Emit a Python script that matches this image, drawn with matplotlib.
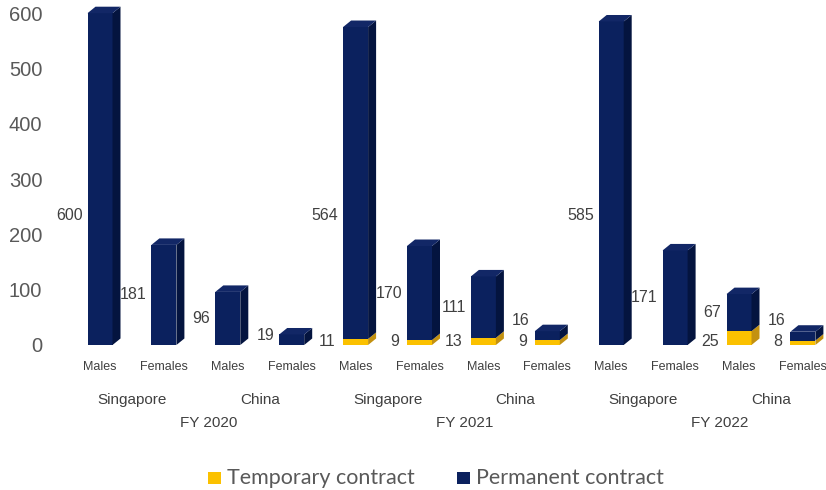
import matplotlib
matplotlib.use("Agg")
import matplotlib.pyplot as plt
from matplotlib.patches import Polygon, Rectangle
from matplotlib.transforms import blended_transform_factory

# ---- data -----------------------------------------------------------------
years = ["FY 2020", "FY 2021", "FY 2022"]
regions = ["Singapore", "China"]
genders = ["Males", "Females"]

# order inside each year: Singapore Males, Singapore Females, China Males, China Females
temporary = [
    [0, 0, 0, 0],
    [11, 9, 13, 9],
    [0, 0, 25, 8],
]
permanent = [
    [600, 181, 96, 19],
    [564, 170, 111, 16],
    [585, 171, 67, 16],
]
yticks = [0, 100, 200, 300, 400, 500, 600]

# ---- styling --------------------------------------------------------------
NAVY = ("#0B215E", "#04143F", "#122766")      # front, side, top
GOLD = ("#FBC100", "#C39110", "#E8B000")
TXT = "#595959"
LBL = "#404040"
FONT = ["Liberation Sans", "DejaVu Sans"]

W, H = 826, 490
fig = plt.figure(figsize=(W / 100, H / 100), dpi=100)

ax_left, ax_right = 50, 826
ax_top, ax_bottom = 3, 345
ax = fig.add_axes([ax_left / W, (H - ax_bottom) / H,
                   (ax_right - ax_left) / W, (ax_bottom - ax_top) / H])

px_per_unit_x = 63.9
px_per_unit_y = 0.553
xmin = -(100 - ax_left) / px_per_unit_x
xmax = xmin + (ax_right - ax_left) / px_per_unit_x
ymax = (ax_bottom - ax_top) / px_per_unit_y
ax.set_xlim(xmin, xmax)
ax.set_ylim(0, ymax)

bar_w = 25 / px_per_unit_x
dx = 8 / px_per_unit_x
dy = 6.5 / px_per_unit_y


def box(x0, y0, h, colors, top=True):
    """Front face, right side and (optionally) top of a pseudo-3D block."""
    front, side, topc = colors
    x1 = x0 + bar_w
    y1 = y0 + h
    ax.add_patch(Rectangle((x0, y0), bar_w, h, facecolor=front,
                           edgecolor="none", clip_on=False, zorder=2))
    ax.add_patch(Polygon([(x1, y0), (x1 + dx, y0 + dy), (x1 + dx, y1 + dy), (x1, y1)],
                         closed=True, facecolor=side, edgecolor="none",
                         clip_on=False, zorder=2))
    if top:
        ax.add_patch(Polygon([(x0, y1), (x0 + dx, y1 + dy), (x1 + dx, y1 + dy), (x1, y1)],
                             closed=True, facecolor=topc, edgecolor="none",
                             clip_on=False, zorder=2))


trans_fig_y = blended_transform_factory(ax.transData, fig.transFigure)


def fy(px):
    return 1 - px / H


idx = 0
for yi, year in enumerate(years):
    for k in range(4):
        x = idx
        x0 = x - bar_w / 2
        t = temporary[yi][k]
        p = permanent[yi][k]
        if t > 0:
            box(x0, 0, t, GOLD, top=False)
        box(x0, t, p, NAVY, top=True)

        # value labels, placed just left of the bar
        lx = x0 - 5 / px_per_unit_x
        if t > 0:
            ax.text(lx - 3 / px_per_unit_x, 7, str(t), ha="right", va="center",
                    fontsize=11.5, color=LBL, family=FONT, zorder=3)
        mid = t + p / 2
        lo = 45 if t > 0 else 18
        ly = min(max(mid, lo), 235)
        ax.text(lx, ly, str(p), ha="right", va="center",
                fontsize=11.5, color=LBL, family=FONT, zorder=3)

        # gender label
        ax.text(x, fy(367), genders[k % 2], ha="center", va="center",
                fontsize=9, color=LBL, family=FONT, transform=trans_fig_y)
        idx += 1

    base = yi * 4
    for r, region in enumerate(regions):
        cx = base + 2 * r + 0.5
        ax.text(cx, fy(400), region, ha="center", va="center",
                fontsize=11, color=LBL, family=FONT, transform=trans_fig_y)
    ax.text(base + 1.5 + 0.2, fy(423), year, ha="center", va="center",
            fontsize=11, color=LBL, family=FONT, transform=trans_fig_y)

# y axis
ax.set_yticks(yticks)
ax.set_yticklabels([str(v) for v in yticks], fontsize=14.5, color=TXT,
                   family=FONT)
ax.tick_params(axis="y", length=0, pad=5.5)
ax.tick_params(axis="x", length=0, labelbottom=False)
for s in ax.spines.values():
    s.set_visible(False)
ax.patch.set_visible(False)

# legend
leg_y = fy(478)
fig.patches.append(Rectangle((208 / W, 1 - 484 / H), 13 / W, 12 / H,
                             facecolor=GOLD[0], edgecolor="none",
                             transform=fig.transFigure))
fig.text(227 / W, leg_y, "Temporary contract", ha="left", va="center",
         fontsize=15.5, color=TXT, family=["Lato", "DejaVu Sans"])
fig.patches.append(Rectangle((457 / W, 1 - 484 / H), 13 / W, 12 / H,
                             facecolor=NAVY[0], edgecolor="none",
                             transform=fig.transFigure))
fig.text(476 / W, leg_y, "Permanent contract", ha="left", va="center",
         fontsize=15.5, color=TXT, family=["Lato", "DejaVu Sans"])

fig.savefig("out.png", dpi=100, facecolor="white")
